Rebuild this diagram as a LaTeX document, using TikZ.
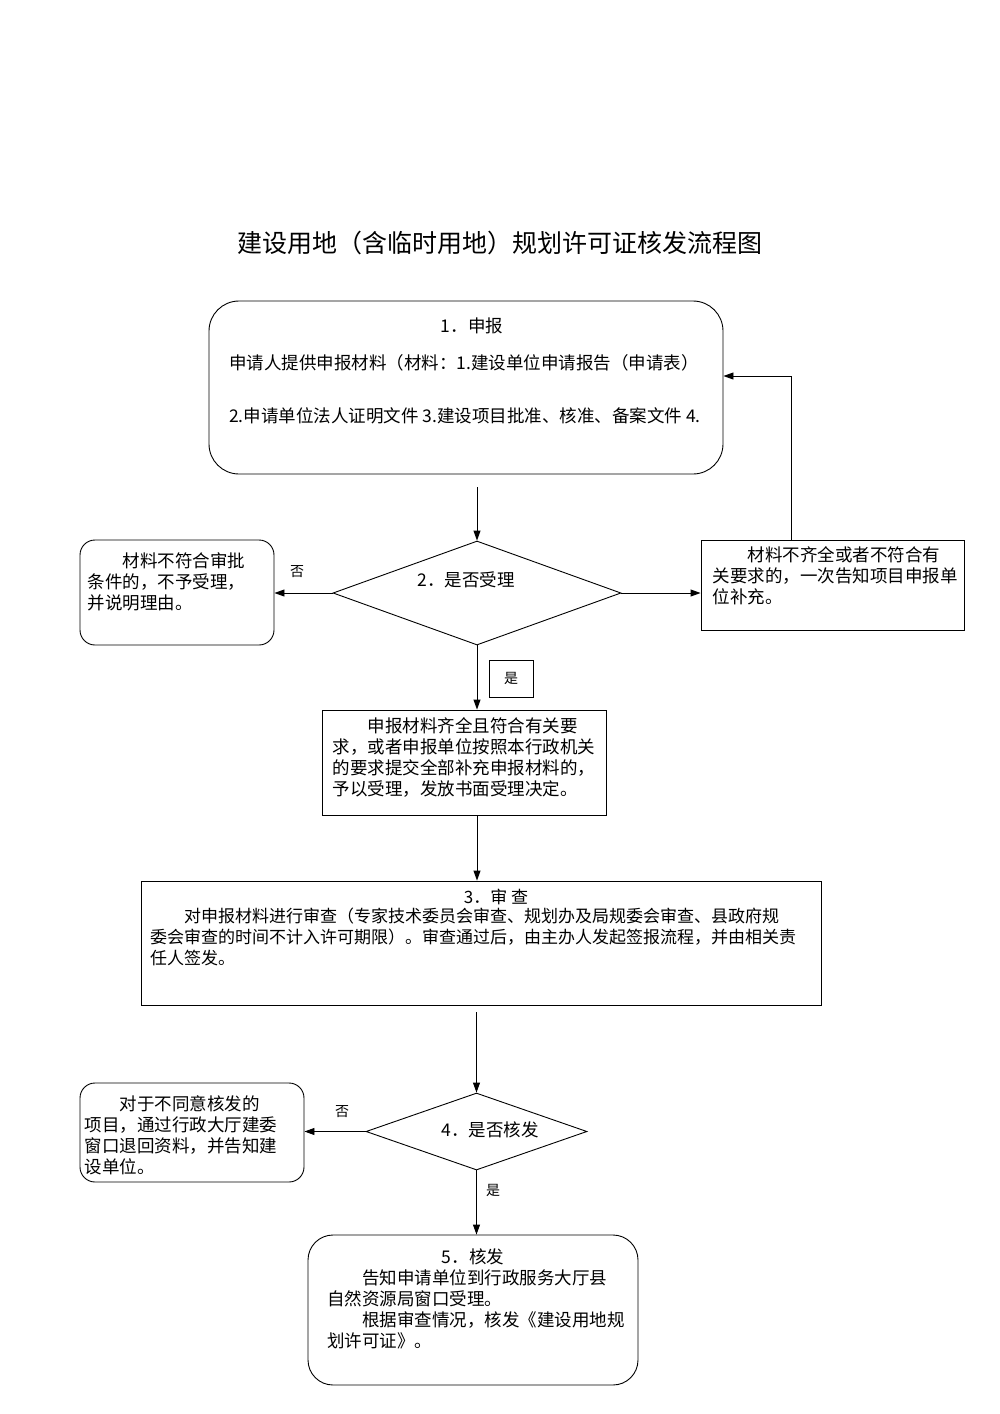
\documentclass[tikz,border=0pt]{standalone}
\usepackage{fontspec}
\newfontfamily\cjk{Noto Sans CJK SC}
\usetikzlibrary{arrows.meta,positioning,shapes.geometric}

\tikzset{
    cjktext/.style={font=\cjk\fontsize{17.5}{21}\selectfont},
    roundbox/.style={draw=black, rounded corners=15pt, line width=0.9pt},
    plainbox/.style={draw=black, line width=0.9pt},
    decision/.style={draw=black, diamond, inner sep=0pt, line width=0.9pt},
    boxtext/.style={cjktext, align=left, inner sep=0pt, anchor=north west},
    arr/.style={-{Triangle[length=10pt,width=7pt]}, line width=0.9pt},
    branch/.style={font=\cjk\fontsize{14}{16}\selectfont, inner sep=1pt}
}

\begin{document}
\begin{tikzpicture}[x=1pt, y=-1pt]
    \useasboundingbox[fill=white] (0,0) rectangle (1000,1414);
    % TITLE
    \node[font=\cjk\fontsize{25}{28}\selectfont] (title) at (500,243) {建设用地（含临时用地）规划许可证核发流程图};

    % NODES
    % step 1: apply
    \node[roundbox, rounded corners=30pt, minimum width=514, minimum height=173] (apply) at (466,387.5) {};
    \node[cjktext] (applyhead) at (472,326) {1．申报};
    \node[cjktext] (applyline1) at (464,363) {申请人提供申报材料（材料：1.建设单位申请报告（申请表）};
    \node[cjktext] (applyline2) at (465,416) {2.申请单位法人证明文件 3.建设项目批准、核准、备案文件 4.};
    % step 2: accept or not
    \node[decision, minimum width=288, minimum height=104] (accept) at (477,593) {};
    \node[cjktext] (accepttext) at (466,580) {2．是否受理};
    % rejected
    \node[roundbox, minimum width=194, minimum height=105] (reject) at (177,592.5) {};
    \node[boxtext] (rejecttext) at ([xshift=8,yshift=-13]reject.north west)
        {\hspace{2em}材料不符合审批\\条件的，不予受理，\\并说明理由。};
    % incomplete
    \node[plainbox, minimum width=263, minimum height=90] (incomplete) at (832.5,585) {};
    \node[boxtext] (incompletetext) at ([xshift=12,yshift=-7]incomplete.north west)
        {\hspace{2em}材料不齐全或者不符合有\\关要求的，一次告知项目申报单\\位补充。};
    % accepted
    \node[plainbox, minimum width=284, minimum height=105] (accepted) at (464,762.5) {};
    \node[boxtext] (acceptedtext) at ([xshift=11,yshift=-8]accepted.north west)
        {\hspace{2em}申报材料齐全且符合有关要\\求，或者申报单位按照本行政机关\\的要求提交全部补充申报材料的，\\予以受理，发放书面受理决定。};
    \node[plainbox, branch, minimum width=44, minimum height=37] (yesbox) at (511,678.5) {是};
    % step 3: review
    \node[plainbox, minimum width=680, minimum height=124] (review) at (481,943) {};
    \node[cjktext, font=\cjk\fontsize{17}{21}\selectfont] (reviewhead) at (496,897) {3．审 查};
    \node[boxtext, font=\cjk\fontsize{17}{21}\selectfont] (reviewtext) at (150,908)
        {\hspace{2em}对申报材料进行审查（专家技术委员会审查、规划办及局规委会审查、县政府规\\委会审查的时间不计入许可期限）。审查通过后，由主办人发起签报流程，并由相关责\\任人签发。};
    % step 4: issue or not
    \node[decision, minimum width=221, minimum height=77] (issue) at (476.5,1131.5) {};
    \node[cjktext] (issuetext) at (490,1130) {4．是否核发};
    % refused
    \node[roundbox, minimum width=224, minimum height=99] (refuse) at (192,1132.5) {};
    \node[boxtext] (refusetext) at ([xshift=5,yshift=-13]refuse.north west)
        {\hspace{2em}对于不同意核发的\\项目，通过行政大厅建委\\窗口退回资料，并告知建\\设单位。};
    % step 5: permit
    \node[roundbox, rounded corners=25pt, minimum width=330, minimum height=150] (permit) at (473,1310) {};
    \node[cjktext] (permithead) at (473,1257) {5．核发};
    \node[boxtext] (permittext) at (327,1269)
        {\hspace{2em}告知申请单位到行政服务大厅县\\自然资源局窗口受理。\\\hspace{2em}根据审查情况，核发《建设用地规\\划许可证》。};
    % branch labels
    \node[branch] (noone) at (297,572) {否};
    \node[branch] (notwo) at (342,1112) {否};
    \node[branch] (yestwo) at (493,1190) {是};
    \coordinate (back) at (791,376);

    % ARROWS
    \draw[arr, shorten <=13pt] (apply.south -| accept.north) -- (accept.north);
    \draw[arr] (accept.west) -- (accept.west -| reject.east);
    \draw[arr] (accept.east) -- (accept.east -| incomplete.west);
    \draw[arr] (incomplete.north -| back) -- (back) -- (back -| apply.east);
    \draw[arr] (accept.south) -- (accept.south |- accepted.north);
    \draw[arr] (accepted.south -| accept.south) -- (accept.south |- review.north);
    \draw[arr, shorten <=7pt] (review.south -| issue.north) -- (issue.north);
    \draw[arr] (issue.west) -- (issue.west -| refuse.east);
    \draw[arr] (issue.south) -- (issue.south |- permit.north);
\end{tikzpicture}
\end{document}
